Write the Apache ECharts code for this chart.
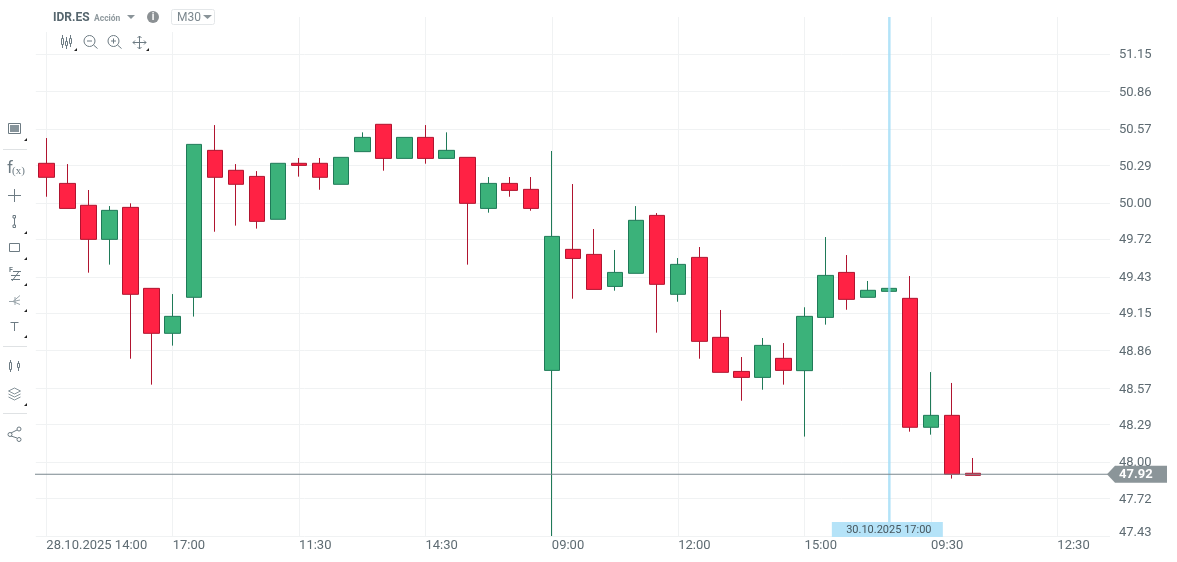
<!DOCTYPE html>
<html><head><meta charset="utf-8">
<style>html,body{margin:0;padding:0;background:#fff}#c{width:1177px;height:562px}</style>
<script src="https://cdn.jsdelivr.net/npm/echarts@6/dist/echarts.min.js"></script>
</head><body><div id="c"></div>
<script>
const sessions = [
  ['28.10.2025', ['14:00','14:30','15:00','15:30','16:00','16:30','17:00']],
  ['29.10.2025', ['09:00','09:30','10:00','10:30','11:00','11:30','12:00','12:30','13:00','13:30','14:00','14:30','15:00','15:30','16:00','16:30','17:00']],
  ['30.10.2025', ['09:00','09:30','10:00','10:30','11:00','11:30','12:00','12:30','13:00','13:30','14:00','14:30','15:00','15:30','16:00','16:30','17:00']],
  ['31.10.2025', ['09:00','09:30','10:00','10:30','11:00','11:30','12:00','12:30','13:00','13:30']]
];
const categories = sessions.flatMap(([d, ts]) => ts.map(t => d + ' ' + t));
const opens  = [50.306,50.151,49.982,49.719,49.966,49.341,48.994,49.272,50.406,50.252,50.205,49.874,50.306,50.306,50.144,50.396,50.607,50.344,50.506,50.344,50.352,49.958,50.151,50.105,48.708,49.642,49.603,49.356,49.457,49.904,49.295,49.580,48.963,48.700,48.654,48.801,48.706,49.117,49.464,49.272,49.318,49.264,48.269,48.361,47.914];
const closes = [50.198,49.958,49.719,49.943,49.295,48.994,49.125,50.452,50.198,50.144,49.858,50.306,50.290,50.198,50.352,50.506,50.344,50.506,50.344,50.406,49.997,50.151,50.097,49.958,49.742,49.572,49.333,49.464,49.866,49.372,49.526,48.932,48.693,48.654,48.901,48.708,49.125,49.441,49.256,49.326,49.341,48.269,48.361,47.906,47.898];
const lows   = [50.048,49.958,49.462,49.524,48.798,48.598,48.899,49.123,49.778,49.825,49.802,49.874,50.203,50.102,50.144,50.396,50.249,50.344,50.303,50.344,49.524,49.925,50.048,49.940,47.430,49.261,49.333,49.323,49.457,48.999,49.238,48.798,48.693,48.474,48.559,48.598,48.197,49.061,49.176,49.272,49.318,48.235,48.212,47.873,47.898];
const highs  = [50.501,50.300,50.100,49.976,49.997,49.341,49.297,50.452,50.601,50.300,50.246,50.306,50.347,50.347,50.352,50.545,50.607,50.506,50.601,50.545,50.352,50.200,50.200,50.200,50.401,50.146,49.799,49.637,49.976,49.922,49.575,49.660,49.174,48.811,48.958,48.919,49.195,49.737,49.598,49.398,49.341,49.436,48.695,48.611,48.032];
const yTicks = [47.43,47.72,48.00,48.29,48.57,48.86,49.15,49.43,49.72,50.00,50.29,50.57,50.86,51.15];
const cursorCategory = '30.10.2025 17:00';
const lastPriceLabel = '47.92';
const yMin = 47.43, yMax = 51.435;

const candleData = opens.map((o, i) => [o, closes[i], lows[i], highs[i]]);
const cursorIndex = categories.indexOf(cursorCategory);
const lastLevel = closes[closes.length - 2];

const ICON = '#6d7b83', FONT = 'Roboto, sans-serif';
const ln = {stroke: ICON, lineWidth: 1, fill: 'none'};
const path = (d, style) => {
  const el = {type: 'polyline', z: 20, silent: true};
  return {type: 'group', z: 20, silent: true, children: d.map(pts => Object.assign({}, el, {shape: {points: pts}, style: Object.assign({}, ln, style)}))};
};
const corner = (x, y) => ({type: 'polygon', z: 20, silent: true, shape: {points: [[x, y + 3], [x + 3, y + 3], [x + 3, y]]}, style: {fill: '#222'}});
const rect = (x, y, w, h, style, r) => ({type: 'rect', z: 20, silent: true, shape: {x, y, width: w, height: h, r: r || 0}, style: Object.assign({}, ln, style)});
const circle = (cx, cy, r, style) => ({type: 'circle', z: 20, silent: true, shape: {cx, cy, r}, style: Object.assign({}, ln, style)});
const text = (x, y, t, font, fill, align) => ({type: 'text', z: 21, silent: true, x, y, style: {text: t, font, fill, align: align || 'left', verticalAlign: 'middle'}});
const sep = y => rect(3, y, 24, 1, {fill: '#dfe2e4', stroke: 'none'});

const graphics = [
  {type: 'rect', z: 5, silent: true, shape: {x: 36, y: 0, width: 140, height: 32}, style: {fill: '#fff'}},
  text(53, 18, 'IDR.ES', 'bold 12px ' + FONT, '#56666e'),
  text(94, 18.5, 'Acción', 'bold 8.5px ' + FONT, '#8f999e'),
  {type: 'polygon', z: 20, silent: true, shape: {points: [[127, 15], [135, 15], [131, 19]]}, style: {fill: '#8a9499'}},
  circle(153, 17, 6, {fill: '#8b9093', stroke: 'none'}),
  text(153, 17.5, 'i', 'bold 10px ' + FONT, '#fff', 'center'),
  rect(171.5, 9.5, 43, 15, {stroke: '#e4e7e9', fill: '#fff'}, 2),
  text(177, 17.5, 'M30', '12px ' + FONT, '#7b878e'),
  {type: 'polygon', z: 21, silent: true, shape: {points: [[203, 15], [212, 15], [207.5, 19]]}, style: {fill: '#8a9499'}},

  // top tools
  path([[[62.5, 35], [62.5, 48]], [[66.5, 37], [66.5, 49]], [[70.5, 35], [70.5, 47]]]),
  rect(61.5, 38.5, 2, 6, {fill: '#fff'}), rect(65.5, 41.5, 2, 4, {fill: '#fff'}), rect(69.5, 38.5, 2, 5, {fill: '#fff'}),
  corner(74, 48),
  circle(89.5, 41, 5.5), path([[[93.5, 45], [97.5, 48.5]], [[87, 41], [92, 41]]]),
  circle(113.5, 41, 5.5), path([[[117.5, 45], [121.5, 48.5]], [[111, 41], [116, 41]], [[113.5, 38.5], [113.5, 43.5]]]),
  path([[[133, 42.5], [146, 42.5]], [[139.5, 36], [139.5, 49]], [[137.5, 38], [139.5, 36], [141.5, 38]], [[137.5, 47], [139.5, 49], [141.5, 47]], [[135, 40.5], [133, 42.5], [135, 44.5]], [[144, 40.5], [146, 42.5], [144, 44.5]]]),
  corner(146, 48),

  // left tools
  rect(8.5, 123.5, 12, 10, {fill: '#fff', stroke: '#6d7b83'}),
  rect(10, 125, 9, 7, {fill: '#87949b', stroke: 'none'}),
  corner(24, 138),
  sep(149),
  text(7, 169, 'f', '17px ' + FONT, ICON),
  text(12, 171, '(x)', '11px "Liberation Serif", serif', ICON),
  path([[[8, 195.5], [21, 195.5]], [[14.5, 189], [14.5, 202]]]),
  path([[[14.5, 218], [14.5, 225]]]), rect(13, 215.5, 2.5, 2.5, {fill: '#fff'}), rect(13, 225, 2.5, 2.5, {fill: '#fff'}),
  corner(24, 231),
  rect(9.5, 243.5, 10, 8), corner(24, 257),
  text(9, 270.5, 'F', 'bold 7px ' + FONT, ICON),
  path([[[11, 279.5], [20, 279.5]], [[11, 275.5], [20, 275.5]], [[13, 271.5], [21, 271.5]], [[12, 281], [19, 271.5]]]),
  corner(24, 283),
  path([[[9, 301.5], [13, 301.5], [20, 295.5]], [[13, 301.5], [20, 300]], [[13, 301.5], [20, 304.5]], [[15, 297], [15, 305]]], {stroke: '#9aa5ab'}),
  corner(24, 309),
  path([[[10.5, 322.5], [18.5, 322.5]], [[14.5, 322.5], [14.5, 331]]]),
  corner(24, 335),
  sep(346),
  path([[[10.5, 360], [10.5, 372]], [[18.5, 361], [18.5, 371]]]),
  rect(9.5, 362.5, 2, 7, {fill: '#fff'}), rect(17.5, 363.5, 2, 4, {fill: '#fff'}),
  path([[[14.5, 388], [20.5, 391], [14.5, 394], [8.5, 391], [14.5, 388]], [[8.5, 394], [14.5, 397], [20.5, 394]], [[8.5, 397], [14.5, 400], [20.5, 397]]], {stroke: '#87949b'}),
  corner(24, 403),
  sep(413),
  path([[[11, 433], [17, 430]], [[11, 436], [17, 438]]]),
  circle(10, 434.5, 2), circle(19, 429, 2), circle(19, 439.5, 2)
];

const chart = echarts.init(document.getElementById('c'), null, {renderer: 'canvas'});
chart.setOption({
  animation: false,
  backgroundColor: '#fff',
  textStyle: {fontFamily: FONT},
  grid: {left: 35.8, width: 1074.2, top: 17, bottom: 26, containLabel: false},
  xAxis: {
    type: 'category', data: categories, boundaryGap: true,
    axisLine: {show: false}, axisTick: {show: false, alignWithLabel: true, interval: 5},
    splitLine: {show: true, interval: 5, alignWithLabel: true, lineStyle: {color: '#f0f2f3', width: 1}},
    axisLabel: {
      interval: 5, align: 'left', margin: 3, color: '#5e6b72', fontSize: 13, fontFamily: FONT, verticalAlign: 'top',
      formatter: (v, i) => i === 0 ? v : v.slice(-5)
    }
  },
  yAxis: {
    type: 'value', position: 'right', min: yMin, max: yMax, scale: true,
    axisLine: {show: false}, axisTick: {show: false, customValues: yTicks},
    splitLine: {show: true, lineStyle: {color: '#f0f2f3', width: 1}},
    axisLabel: {
      customValues: yTicks, margin: 9, color: '#5e6b72', fontSize: 13, fontFamily: FONT,
      formatter: v => (v === yTicks[0] ? '{low|' : '{mid|') + v.toFixed(2) + '}',
      rich: {
        mid: {color: '#5e6b72', fontSize: 13, fontFamily: FONT, padding: [2, 0, 0, 0]},
        low: {color: '#5e6b72', fontSize: 13, fontFamily: FONT, padding: [0, 0, 7, 0]}
      }
    }
  },
  series: [
    {
      type: 'candlestick', data: candleData, barWidth: 16, z: 3,
      itemStyle: {color: '#3bb27a', color0: '#ff2244', borderColor: '#1f7a58', borderColor0: '#b0142f', borderWidth: 1}
    },
    {
      type: 'custom', z: 6, clip: false, silent: true, encode: {x: 0, y: 1}, data: [[cursorIndex, yMin]],
      renderItem: (params, api) => {
        const pt = api.coord([api.value(0), api.value(1)]);
        const x = pt[0] + 0.5, y = pt[1];
        return {type: 'group', children: [
          {type: 'rect', shape: {x: x - 1.25, y: 17, width: 2.5, height: y - 17}, style: {fill: 'rgba(160,220,246,0.8)'}},
          {type: 'rect', shape: {x: x - 57.5, y: y - 14, width: 111, height: 15}, style: {fill: '#b5e3f8'}},
          {type: 'text', x: x - 0.5, y: y - 6, style: {text: cursorCategory, font: '11px ' + FONT, fill: '#47565d', align: 'center', verticalAlign: 'middle'}}
        ]};
      }
    },
    {
      type: 'custom', z: 7, clip: false, silent: true, encode: {x: 0, y: 1}, data: [[0, lastLevel]],
      renderItem: (params, api) => {
        const y = api.coord([api.value(0), api.value(1)])[1];
        return {type: 'group', children: [
          {type: 'rect', shape: {x: 35, y: y - 0.5, width: 1073, height: 1}, style: {fill: '#7a878e'}},
          {type: 'polygon', shape: {points: [[1107, y], [1115, y - 8.5], [1167, y - 8.5], [1167, y + 8.5], [1115, y + 8.5]]}, style: {fill: '#8b9599'}},
          {type: 'text', x: 1119, y: y + 0.5, style: {text: lastPriceLabel, font: 'bold 13px ' + FONT, fill: '#fff', align: 'left', verticalAlign: 'middle'}}
        ]};
      }
    }
  ],
  graphic: graphics
});
</script></body></html>
